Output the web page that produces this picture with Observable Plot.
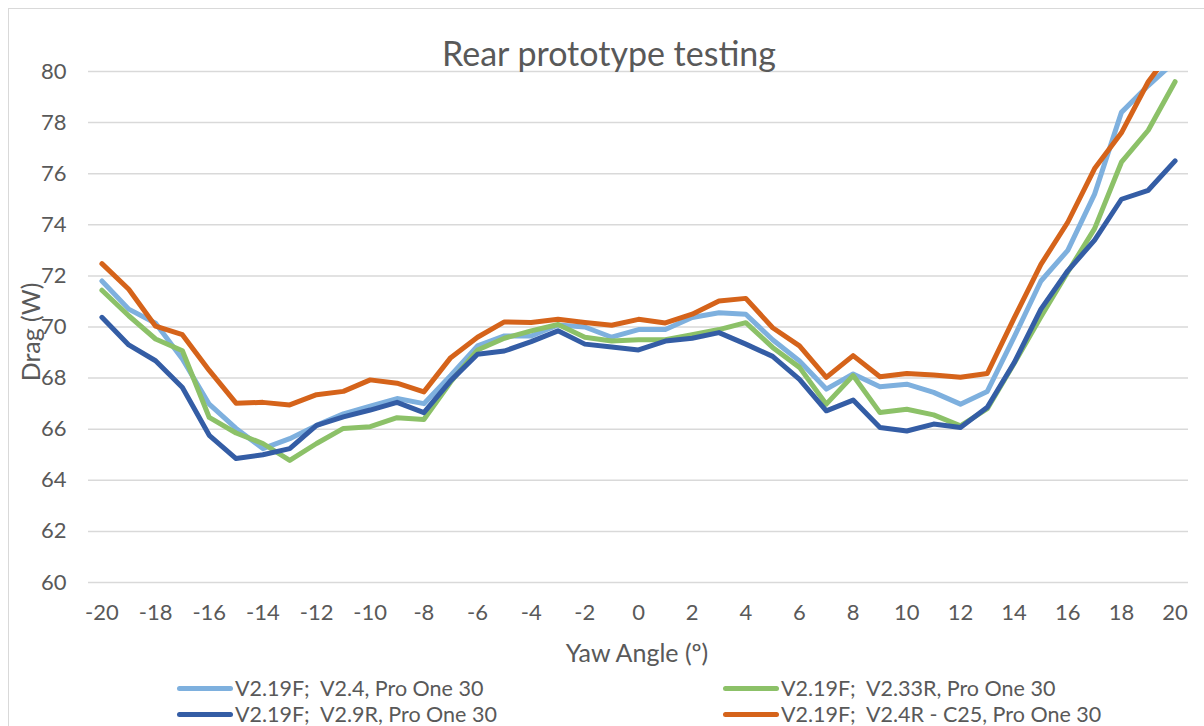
<!DOCTYPE html>
<html>
<head>
<meta charset="utf-8">
<script src="https://cdn.jsdelivr.net/npm/d3@7"></script>
<script src="https://cdn.jsdelivr.net/npm/@observablehq/plot@0.6"></script>
<style>
  html, body { margin: 0; padding: 0; background: #fff; overflow: hidden; }
  #wrap { position: relative; width: 1204px; height: 726px; overflow: hidden; font-family: Lato, "Open Sans", sans-serif; color: #595959; }
  .abs { position: absolute; white-space: pre; }
  .c { transform: translate(-50%, -50%); }
  #frame { position: absolute; left: 8px; top: 8px; width: 1400px; height: 900px; border: 1.5px solid #d9d9d9; pointer-events: none; }
  .sw { position: absolute; width: 56px; height: 5px; border-radius: 3px; }
  .lt { position: absolute; font-size: 21.5px; white-space: pre; transform: translateY(-50%); }
</style>
</head>
<body>
<div id="wrap">
  <div id="chart"></div>
  <div id="frame"></div>
  <div class="abs c" id="title" style="left:609px; top:52px; font-size:34px;"></div>
  <div class="abs c" id="ylab" style="left:30px; top:332px; font-size:25px; transform: translate(-50%,-50%) rotate(-90deg);"></div>
  <div class="abs c" id="xlab" style="left:637px; top:652px; font-size:25px;"></div>
  <div id="legend"></div>
</div>
<script>
const titleText = "Rear prototype testing";
const xTitle = "Yaw Angle (º)";
const yTitle = "Drag (W)";

const angles = [-20,-19,-18,-17,-16,-15,-14,-13,-12,-11,-10,-9,-8,-7,-6,-5,-4,-3,-2,-1,0,1,2,3,4,5,6,7,8,9,10,11,12,13,14,15,16,17,18,19,20];
const xTicks = [-20,-18,-16,-14,-12,-10,-8,-6,-4,-2,0,2,4,6,8,10,12,14,16,18,20];
const yTicks = [60,62,64,66,68,70,72,74,76,78,80];

const seriesNames = [
  "V2.19F;  V2.4, Pro One 30",
  "V2.19F;  V2.33R, Pro One 30",
  "V2.19F;  V2.9R, Pro One 30",
  "V2.19F;  V2.4R - C25, Pro One 30"
];
const seriesColors = ["#7eb0de", "#8cc168", "#345da5", "#d5631a"];

const lightBlue = [71.8,70.7,70.15,68.75,66.98,66.03,65.24,65.63,66.15,66.6,66.9,67.2,67.0,68.1,69.26,69.65,69.65,70.08,70.0,69.6,69.9,69.9,70.37,70.56,70.5,69.5,68.67,67.57,68.16,67.66,67.76,67.44,66.98,67.48,69.6,71.8,73.0,75.2,78.4,79.45,80.4];
const green = [71.44,70.44,69.53,69.07,66.46,65.85,65.44,64.78,65.44,66.03,66.1,66.45,66.38,67.85,69.1,69.56,69.85,70.1,69.6,69.45,69.5,69.5,69.7,69.9,70.17,69.2,68.42,66.98,68.1,66.65,66.78,66.56,66.13,66.8,68.57,70.4,72.15,73.85,76.45,77.7,79.6];
const darkBlue = [70.38,69.3,68.68,67.63,65.76,64.85,65.0,65.24,66.15,66.48,66.75,67.05,66.65,67.9,68.93,69.06,69.43,69.85,69.33,69.22,69.1,69.45,69.56,69.78,69.33,68.85,67.95,66.72,67.14,66.07,65.93,66.2,66.07,66.86,68.6,70.7,72.2,73.4,75.0,75.35,76.5];
const orange = [72.48,71.48,70.03,69.7,68.3,67.02,67.05,66.95,67.35,67.48,67.93,67.8,67.46,68.8,69.6,70.2,70.18,70.3,70.18,70.07,70.3,70.16,70.5,71.02,71.12,69.97,69.26,68.03,68.88,68.05,68.18,68.12,68.03,68.18,70.35,72.45,74.1,76.2,77.6,79.6,81.0];

const seriesValues = [lightBlue, green, darkBlue, orange];
const rows = [];
seriesValues.forEach((vals, i) => {
  vals.forEach((v, j) => rows.push({series: seriesNames[i], angle: angles[j], drag: v}));
});

const chart = Plot.plot({
  width: 1204,
  height: 726,
  marginLeft: 88,
  marginRight: 16,
  marginTop: 71,
  marginBottom: 144,
  style: {background: "transparent", color: "#595959", fontFamily: "Lato, 'Open Sans', sans-serif"},
  x: {domain: [-20.5, 20.5]},
  y: {domain: [60, 80]},
  color: {domain: seriesNames, range: seriesColors},
  marks: [
    Plot.ruleY(yTicks, {stroke: "#d9d9d9", strokeWidth: 1.5}),
    Plot.axisY({ticks: yTicks, tickSize: 0, tickPadding: 22, fontSize: 22, label: null}),
    Plot.axisX({ticks: xTicks, tickSize: 0, tickPadding: 22, fontSize: 22, label: null, tickFormat: d => String(d)}),
    Plot.line(rows, {x: "angle", y: "drag", z: "series", stroke: "series", strokeWidth: 5, strokeLinejoin: "round", strokeLinecap: "round", clip: true})
  ]
});
document.getElementById("chart").appendChild(chart);

document.getElementById("title").textContent = titleText;
document.getElementById("xlab").textContent = xTitle;
document.getElementById("ylab").textContent = yTitle;

// legend: two columns, two rows (Excel order)
const legend = document.getElementById("legend");
const colX = [177, 723];
const rowY = [688, 714];
seriesNames.forEach((name, i) => {
  const cx = colX[i % 2], cy = rowY[Math.floor(i / 2)];
  const sw = document.createElement("div");
  sw.className = "sw";
  sw.style.left = cx + "px";
  sw.style.top = (cy - 2.5) + "px";
  sw.style.background = seriesColors[i];
  legend.appendChild(sw);
  const t = document.createElement("div");
  t.className = "lt";
  t.style.left = (cx + 58) + "px";
  t.style.top = cy + "px";
  t.textContent = name;
  legend.appendChild(t);
});
</script>
</body>
</html>
